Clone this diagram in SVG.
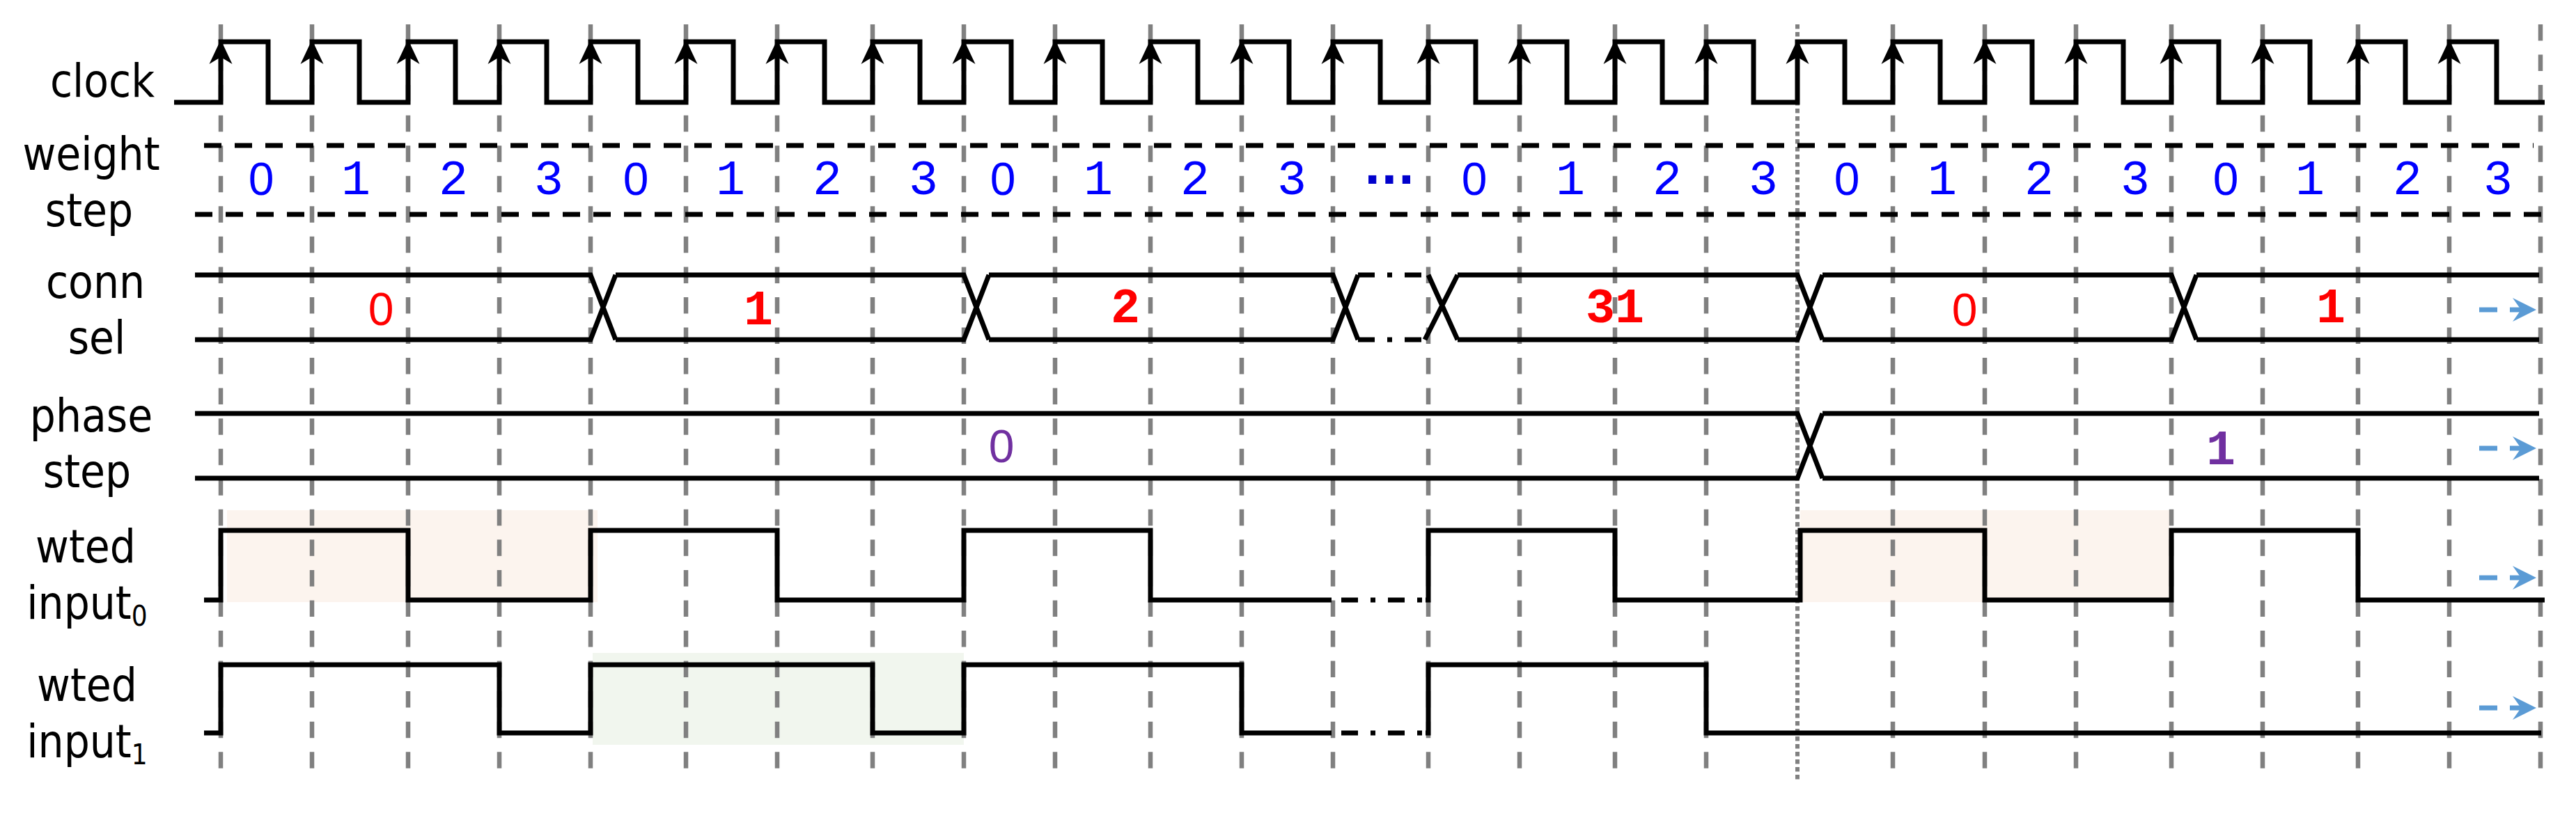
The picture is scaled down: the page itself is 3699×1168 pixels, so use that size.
<svg xmlns="http://www.w3.org/2000/svg" xmlns:xlink="http://www.w3.org/1999/xlink" width="3699" height="1168" viewBox="0 0 3699 1168">
<style>
.lbl{font-family:"DejaVu Sans Condensed","DejaVu Sans",sans-serif;font-stretch:condensed;font-size:65px;fill:#000;text-anchor:middle}
.grid{stroke:#808080;stroke-width:6.5;stroke-dasharray:23.5 20.05;fill:none}
.dot{stroke:#808080;stroke-width:6;stroke-dasharray:6.5 4.5;fill:none}
.sig{stroke:#000;stroke-width:7;fill:none;stroke-linejoin:miter;stroke-linecap:butt}
.wdash{stroke:#000;stroke-width:7;fill:none;stroke-dasharray:25 19}
.dd{stroke:#000;stroke-width:7;fill:none;stroke-dasharray:24 18 7 18}
.wnum{font-family:"Liberation Mono",monospace;font-size:70px;fill:#0000FF;text-anchor:middle}
.cnum{font-family:"Liberation Mono",monospace;font-size:70px;font-weight:bold;fill:#FF0000;text-anchor:middle}
.pnum{font-family:"Liberation Mono",monospace;font-size:70px;font-weight:bold;fill:#7030A0;text-anchor:middle}
.z{font-family:"Liberation Sans",sans-serif;font-size:66px;font-weight:normal}
.cont{stroke:#5B9BD5;stroke-width:7;fill:none;stroke-dasharray:26 18}
</style>
<defs>
<path id="clkArrow" d="M0,0 L16.5,35 L0,25 L-16.5,35 Z" fill="#000"/>
<marker id="blueArrow" viewBox="0 0 34 34" refX="16" refY="17" markerWidth="34" markerHeight="34" markerUnits="userSpaceOnUse" orient="auto">
<path d="M0,0 L34,17 L0,34 L12,17 Z" fill="#5B9BD5"/>
</marker>
</defs>
<rect width="3699" height="1168" fill="#fff"/>

<g id="shading">
<rect x="326" y="733" width="532" height="132" fill="#FCF4EE"/>
<rect x="2585" y="733" width="530" height="132" fill="#FCF4EE"/>
<rect x="851" y="938" width="533" height="132" fill="#F1F6EE"/>
</g>

<g id="grid">
<path class="grid" d="M317,35V1104M448,35V1104M586,35V1104M717,35V1104M848,35V1104M985,35V1104M1116,35V1104M1253,35V1104M1384,35V1104M1515,35V1104M1652,35V1104M1783,35V1104M1914,35V1104M2051,35V1104M2182,35V1104M2319,35V1104M2450,35V1104M2718,35V1104M2850,35V1104M2981,35V1104M3118,35V1104M3249,35V1104M3386,35V1104M3517,35V1104M3648,35V1104"/>
<path class="dot" d="M2581,35V1124"/>
</g>

<g id="labels">
<text class="lbl" x="147" y="139">clock</text>
<text class="lbl" x="131" y="244">weight</text>
<text class="lbl" x="128" y="325">step</text>
<text class="lbl" x="137" y="428">conn</text>
<text class="lbl" x="139" y="508">sel</text>
<text class="lbl" x="131" y="620">phase</text>
<text class="lbl" x="125" y="700">step</text>
<text class="lbl" x="123" y="808">wted</text>
<text class="lbl" x="125" y="889">input<tspan font-size="40" dy="10">0</tspan></text>
<text class="lbl" x="125" y="1007">wted</text>
<text class="lbl" x="125" y="1088">input<tspan font-size="40" dy="10">1</tspan></text>
</g>

<g id="clock">
<path class="sig" d="M250,147 H317 V60 H385 V147 H448 V60 H516 V147 H586 V60 H654 V147 H717 V60 H785 V147 H848 V60 H916 V147 H985 V60 H1053 V147 H1116 V60 H1184 V147 H1253 V60 H1321 V147 H1384 V60 H1452 V147 H1515 V60 H1583 V147 H1652 V60 H1720 V147 H1783 V60 H1851 V147 H1914 V60 H1982 V147 H2051 V60 H2119 V147 H2182 V60 H2250 V147 H2319 V60 H2387 V147 H2450 V60 H2518 V147 H2581 V60 H2649 V147 H2718 V60 H2786 V147 H2850 V60 H2918 V147 H2981 V60 H3049 V147 H3118 V60 H3186 V147 H3249 V60 H3317 V147 H3386 V60 H3454 V147 H3517 V60 H3585 V147 H3654"/>
<use xlink:href="#clkArrow" x="317" y="57"/>
<use xlink:href="#clkArrow" x="448" y="57"/>
<use xlink:href="#clkArrow" x="586" y="57"/>
<use xlink:href="#clkArrow" x="717" y="57"/>
<use xlink:href="#clkArrow" x="848" y="57"/>
<use xlink:href="#clkArrow" x="985" y="57"/>
<use xlink:href="#clkArrow" x="1116" y="57"/>
<use xlink:href="#clkArrow" x="1253" y="57"/>
<use xlink:href="#clkArrow" x="1384" y="57"/>
<use xlink:href="#clkArrow" x="1515" y="57"/>
<use xlink:href="#clkArrow" x="1652" y="57"/>
<use xlink:href="#clkArrow" x="1783" y="57"/>
<use xlink:href="#clkArrow" x="1914" y="57"/>
<use xlink:href="#clkArrow" x="2051" y="57"/>
<use xlink:href="#clkArrow" x="2182" y="57"/>
<use xlink:href="#clkArrow" x="2319" y="57"/>
<use xlink:href="#clkArrow" x="2450" y="57"/>
<use xlink:href="#clkArrow" x="2581" y="57"/>
<use xlink:href="#clkArrow" x="2718" y="57"/>
<use xlink:href="#clkArrow" x="2850" y="57"/>
<use xlink:href="#clkArrow" x="2981" y="57"/>
<use xlink:href="#clkArrow" x="3118" y="57"/>
<use xlink:href="#clkArrow" x="3249" y="57"/>
<use xlink:href="#clkArrow" x="3386" y="57"/>
<use xlink:href="#clkArrow" x="3517" y="57"/>
</g>

<g id="weight-step">
<path class="wdash" d="M293,209 H3638"/>
<path class="wdash" d="M280,308 H3649"/>
<text class="wnum z" x="375" y="280">0</text>
<text class="wnum" x="511" y="279">1</text>
<text class="wnum" x="651" y="279">2</text>
<text class="wnum" x="788" y="279">3</text>
<text class="wnum z" x="913" y="280">0</text>
<text class="wnum" x="1049" y="279">1</text>
<text class="wnum" x="1188" y="279">2</text>
<text class="wnum" x="1326" y="279">3</text>
<text class="wnum z" x="1440" y="280">0</text>
<text class="wnum" x="1577" y="279">1</text>
<text class="wnum" x="1716" y="279">2</text>
<text class="wnum" x="1855" y="279">3</text>
<text x="1995" y="264" font-family="DejaVu Sans, sans-serif" font-weight="bold" font-size="64" fill="#0000CC" text-anchor="middle">...</text>
<text class="wnum z" x="2117" y="280">0</text>
<text class="wnum" x="2255" y="279">1</text>
<text class="wnum" x="2394" y="279">2</text>
<text class="wnum" x="2532" y="279">3</text>
<text class="wnum z" x="2652" y="280">0</text>
<text class="wnum" x="2789" y="279">1</text>
<text class="wnum" x="2928" y="279">2</text>
<text class="wnum" x="3066" y="279">3</text>
<text class="wnum z" x="3196" y="280">0</text>
<text class="wnum" x="3317" y="279">1</text>
<text class="wnum" x="3457" y="279">2</text>
<text class="wnum" x="3587" y="279">3</text>
</g>

<g id="conn-sel">
<path class="sig" d="M280,395 H848 L884,488 M280,488 H848 L884,395 M884,395 H1384 L1420,488 M884,488 H1384 L1420,395 M1420,395 H1914 L1950,488 M1420,488 H1914 L1950,395 M2051,395 L2093,488 M2046,488 L2093,395 M2093,395 H2581 L2617,488 M2093,488 H2581 L2617,395 M2617,395 H3118 L3154,488 M2617,488 H3118 L3154,395 M3154,395 H3646 M3154,488 H3646"/>
<path class="dd" d="M1950,395 H2046 M1950,488 H2046"/>
<text class="cnum z" x="547" y="467">0</text>
<text class="cnum" x="1089" y="466">1</text>
<text class="cnum" x="1616" y="463">2</text>
<text class="cnum" x="2319" y="463">31</text>
<text class="cnum z" x="2821" y="468">0</text>
<text class="cnum" x="3347" y="463">1</text>
</g>

<g id="phase-step">
<path class="sig" d="M280,594 H2581 L2617,687 M280,687 H2581 L2617,594 M2617,594 H3646 M2617,687 H3646"/>
<text class="pnum z" x="1438" y="664">0</text>
<text class="pnum" x="3189" y="667">1</text>
</g>

<g id="wted-input0">
<path class="sig" d="M293,862 H317 V762 H586 V862 H848 V762 H1116 V862 H1384 V762 H1652 V862 H1912"/>
<path class="dd" d="M1926,862 H2047"/>
<path class="sig" d="M2047,862 H2051 V762 H2319 V862 H2585 V762 H2850 V862 H3118 V762 H3386 V862 H3654"/>
</g>

<g id="wted-input1">
<path class="sig" d="M293,1053 H317 V955 H717 V1053 H848 V955 H1253 V1053 H1384 V955 H1783 V1053 H1912"/>
<path class="dd" d="M1926,1053 H2047"/>
<path class="sig" d="M2047,1053 H2051 V955 H2450 V1053 H3649"/>
</g>

<g id="connectors">
<line class="cont" x1="3560" y1="445" x2="3624" y2="445" marker-end="url(#blueArrow)"/>
<line class="cont" x1="3560" y1="644" x2="3624" y2="644" marker-end="url(#blueArrow)"/>
<line class="cont" x1="3560" y1="830" x2="3624" y2="830" marker-end="url(#blueArrow)"/>
<line class="cont" x1="3560" y1="1017" x2="3624" y2="1017" marker-end="url(#blueArrow)"/>
</g>
</svg>
